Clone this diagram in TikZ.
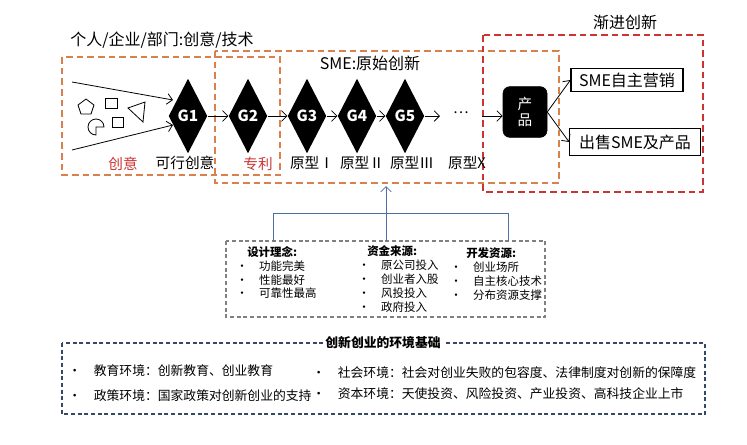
\documentclass[tikz,border=0pt]{standalone}
\usepackage{fontspec}
\setmainfont{Noto Sans CJK SC}
\usetikzlibrary{shapes.geometric,arrows.meta}
\definecolor{org}{HTML}{D9804F}
\definecolor{rd}{HTML}{CC3333}
\definecolor{bl}{HTML}{4F6FA0}
\definecolor{dbl}{HTML}{34496A}
\begin{document}
\begin{tikzpicture}[x=0.75pt,y=-0.75pt,
  dia/.style={diamond,fill=black,text=white,minimum width=29pt,minimum height=56pt,inner sep=0pt,aspect=0.5,font=\fontsize{11.5}{12}\selectfont\bfseries},
  arr/.style={-{Straight Barb[length=4pt]},semithick},
  lab/.style={font=\fontsize{11}{12}\selectfont},
  big/.style={font=\fontsize{12}{13}\selectfont},
  sm/.style={font=\fontsize{8.6}{10}\selectfont,anchor=west,inner sep=0pt},
  bt/.style={font=\fontsize{9.6}{11}\selectfont,anchor=west,inner sep=0pt},
  obox/.style={draw=org,dash pattern=on 5pt off 3pt,line width=1.2pt},
  rbox/.style={draw=rd,dash pattern=on 5pt off 3pt,line width=1.2pt}]
\useasboundingbox (0,0) rectangle (747,444);
\node[big] (t1) at (162,40) {个人/企业/部门:创意/技术};
\node[big] (t2) at (625,22) {渐进创新};
\node[big] (t3) at (370,63) {SME:原始创新};
\draw[obox] (62,57) rectangle (280,175);
\draw[obox] (215,51) rectangle (559,183);
\draw[rbox] (483,35) rectangle (703,192);
% shapes
\draw[semithick] (86,99) -- (94,105) -- (91,114) -- (81,114) -- (78,105) -- cycle;
\draw[semithick] (105,98) rectangle (117,108);
\draw[semithick] (128,108) -- (145,102) -- (143,122) -- cycle;
\draw[semithick] (112,117) rectangle (123,127);
\draw[semithick] (96,127) -- (104,127) arc (0:-270:8) -- cycle;
\coordinate (l1) at (72,82); \coordinate (l2) at (72,150);
\node[dia] (g1) at (188,116) {G1};
\node[dia] (g2) at (248,116) {G2};
\node[dia] (g3) at (307,116) {G3};
\node[dia] (g4) at (357,116) {G4};
\node[dia] (g5) at (405,116) {G5};
\draw[arr] (l1) -- (173,100);
\draw[arr] (l2) -- (173,125);
\draw[arr] (g1) -- (g2);
\draw[arr] (g2) -- (g3);
\draw[arr] (g3) -- (g4);
\draw[arr] (g4) -- (g5);
\coordinate (e5) at (440,116);
\draw[arr] (g5) -- (e5);
\node[lab] (dots) at (461,113) {…};
\node[draw,fill=black,rounded corners=5pt,minimum width=33pt,minimum height=38pt,text=white,align=center,lab,inner sep=1pt] (pr) at (525,112) {产\\品};
\coordinate (s0) at (482,116);
\draw[arr] (s0) -- (pr.west|-s0);
\node[draw,thick,minimum width=84pt,minimum height=17pt,big,inner sep=1pt] (b1) at (627,80) {SME自主营销};
\node[draw,thick,minimum width=98pt,minimum height=20pt,big,inner sep=1pt] (b2) at (635,142) {出售SME及产品};
\draw[arr] (pr.east) -- (b1.west);
\draw[arr] (pr.east) -- (b2.west);
\node[lab,text=rd] (c1) at (123,164) {创意};
\node[lab] (c2) at (185,163) {可行创意};
\node[lab,text=rd] (c3) at (258,164) {专利};
\node[lab] (c4) at (312,163) {原型Ⅰ};
\node[lab] (c5) at (362,163) {原型Ⅱ};
\node[lab] (c6) at (412,163) {原型Ⅲ};
\node[lab] (c7) at (467,163) {原型X};
% tree
\draw[draw=gray,densely dashed,thick] (226,241) rectangle (545,317);
\coordinate (up) at (386,186);
\draw[bl,semithick,-{Straight Barb[length=4pt]}] (386,213) -- (up);
\draw[bl,semithick] (273,241) -- (273,213) -- (508,213) -- (508,241);
\draw[bl,semithick] (386,213) -- (386,241);
\node[sm,font=\fontsize{8.6}{10}\selectfont\bfseries] (h1) at (247,252) {设计理念:};
\node[sm] at (236,266) {•\quad 功能完美};
\node[sm] at (236,280) {•\quad 性能最好};
\node[sm] at (236,293) {•\quad 可靠性最高};
\node[sm,font=\fontsize{8.6}{10}\selectfont\bfseries] (h2) at (367,251) {资金来源:};
\node[sm] at (358,265) {•\quad 原公司投入};
\node[sm] at (358,279) {•\quad 创业者入股};
\node[sm] at (358,293) {•\quad 风投投入};
\node[sm] at (358,307) {•\quad 政府投入};
\node[sm,font=\fontsize{8.6}{10}\selectfont\bfseries] (h3) at (466,253) {开发资源:};
\node[sm] at (450,267) {•\quad 创业场所};
\node[sm] at (450,281) {•\quad 自主核心技术};
\node[sm] at (450,295) {•\quad 分布资源支撑};
% bottom
\draw[dbl,dash pattern=on 3pt off 2pt,thick] (62,343) rectangle (705,414);
\node[fill=white,font=\fontsize{9.6}{11}\selectfont\bfseries,inner sep=2pt] (bt0) at (383,343) {创新创业的环境基础};
\node[bt] at (68,371) {•\quad 教育环境：创新教育、创业教育};
\node[bt] at (68,396) {•\quad 政策环境：国家政策对创新创业的支持};
\node[bt] at (312,373) {•\quad 社会环境：社会对创业失败的包容度、法律制度对创新的保障度};
\node[bt] at (312,394) {•\quad 资本环境：天使投资、风险投资、产业投资、高科技企业上市};
\end{tikzpicture}
\end{document}
